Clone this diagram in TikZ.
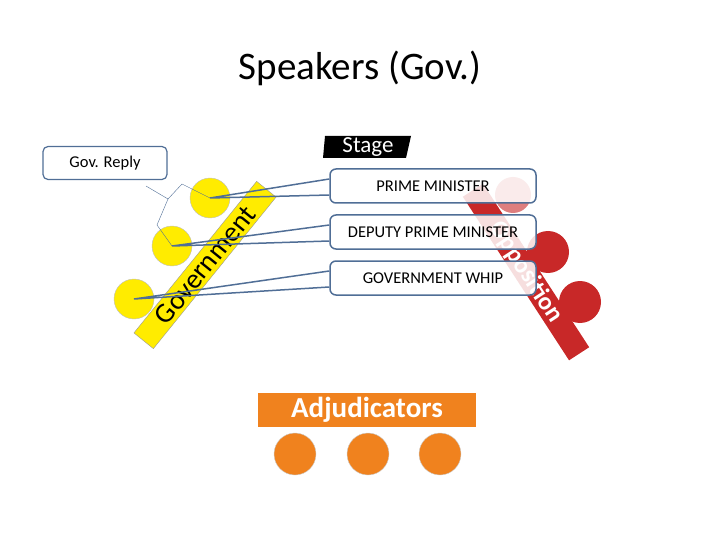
\documentclass[tikz,border=0pt]{standalone}
\usepackage{fontspec}
\setmainfont{Carlito}
\usetikzlibrary{positioning}
\definecolor{govyellow}{RGB}{255,236,0}
\definecolor{oppred}{RGB}{200,40,40}
\definecolor{adjorange}{RGB}{240,130,30}
\definecolor{boxblue}{RGB}{80,110,150}
\tikzset{
  speaker/.style={rounded corners=6pt,draw=boxblue,line width=1.5pt,fill=white,fill opacity=0.85,text opacity=1,minimum width=206pt,minimum height=34pt,font=\fontsize{16.5}{18}\selectfont},
  seat/.style={circle,minimum size=#1,inner sep=0pt},
  pointer/.style={draw=boxblue,line width=1.5pt},
}
\begin{document}
\begin{tikzpicture}[x=1pt,y=-1pt]
\useasboundingbox (0,0) rectangle (720,540);

\node (title) at (360,68) {\fontsize{39}{44}\selectfont Speakers (Gov.)};

% stage
\fill[black] (325,136) -- (411,136) -- (406,158) -- (323,158) -- cycle;
\node[text=white,font=\fontsize{23}{26}\selectfont] (stage) at (368,147) {Stage};

% government bench
\node[fill=govyellow,draw=black!40,rotate=51,minimum width=195pt,minimum height=25pt,inner sep=0pt,
  font=\fontsize{28}{30}\selectfont] (gov) at (205,265) {Government};
\node[seat=40pt,fill=govyellow,draw=black!25] (g1) at (210,198) {};
\node[seat=40pt,fill=govyellow,draw=black!25] (g2) at (172,246) {};
\node[seat=40pt,fill=govyellow,draw=black!25] (g3) at (134,299) {};

% opposition bench
\node[fill=oppred,rotate=-57,minimum width=195pt,minimum height=24pt,inner sep=0pt,text=white,
  font=\bfseries\fontsize{25}{28}\selectfont] (opp) at (526,272) {Opposition};
\node[seat=36pt,fill=oppred!60] (o1) at (513,195) {};
\node[seat=42pt,fill=oppred] (o2) at (548,252) {};
\node[seat=42pt,fill=oppred] (o3) at (580,302) {};

% speaker boxes
\node[speaker] (pm) at (433,186) {PRIME MINISTER};
\node[speaker] (dpm) at (433,232) {DEPUTY PRIME MINISTER};
\node[speaker] (whip) at (433,278) {GOVERNMENT WHIP};
\foreach \b/\s in {pm/g1,dpm/g2,whip/g3}{
  \draw[pointer] ([yshift=7pt]\b.west) -- (\s.center) -- ([yshift=-9pt]\b.west);
}

% reply callout
\node[rounded corners=5pt,draw=boxblue,line width=1.2pt,minimum width=124pt,minimum height=33pt,
  font=\fontsize{16.5}{18}\selectfont] (reply) at (105,163) {Gov. Reply};
\coordinate (tip) at (168,199);
\draw[boxblue] (146,186) -- (tip);
\draw[boxblue] (g1.center) -- (182,184) -- (tip) -- (157,225) -- (g2.center);

% adjudicators
\node[fill=adjorange,minimum width=218pt,minimum height=34pt,text=white,
  font=\bfseries\fontsize{29}{32}\selectfont] (adj) at (367,410) {Adjudicators};
\foreach \x [count=\i] in {295,368,440}
  \node[seat=42pt,fill=adjorange,draw=black!20] (a\i) at (\x,454) {};
\end{tikzpicture}
\end{document}
